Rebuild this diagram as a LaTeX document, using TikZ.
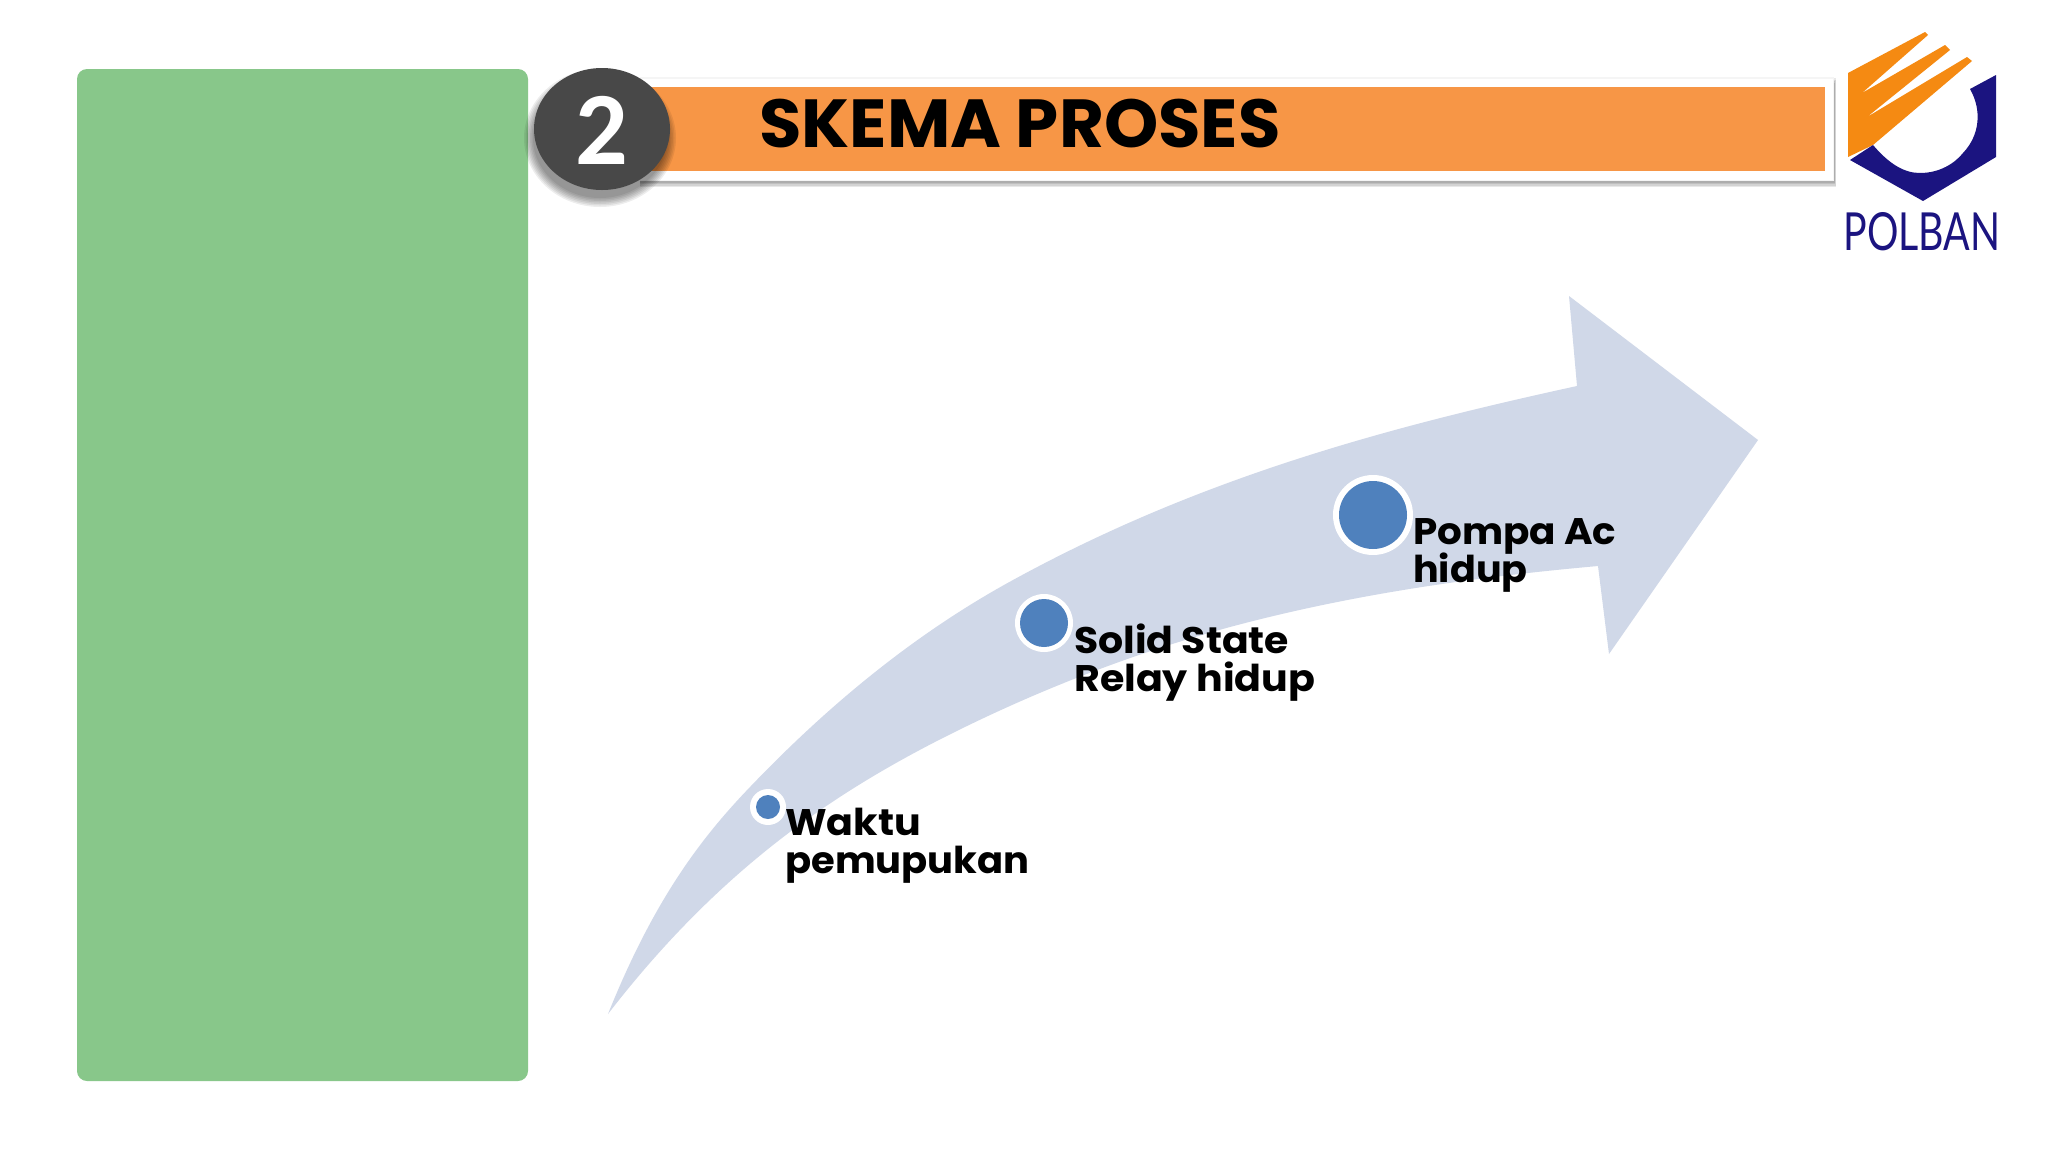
\documentclass[tikz,border=0pt]{standalone}
\usepackage{fontspec}
\setmainfont{Poppins}[BoldFont={Poppins Bold}]
\newfontfamily\numfont{Carlito}[BoldFont={Carlito Bold}]
\newfontfamily\logofont{Lato}
\definecolor{greenpanel}{HTML}{88C78A}
\definecolor{orangebar}{HTML}{F79646}
\definecolor{darkdisc}{HTML}{484848}
\definecolor{arrowfill}{HTML}{D0D8E8}
\definecolor{dotblue}{HTML}{4F81BD}
\definecolor{logoorange}{HTML}{F58A12}
\definecolor{logoblue}{HTML}{1B1480}
\tikzset{
  dotring/.style={circle,fill=white,inner sep=0pt,minimum size=#1},
  dotcore/.style={circle,fill=dotblue,inner sep=0pt,minimum size=#1},
  steplabel/.style={anchor=base west,inner sep=0pt,font=\fontsize{37}{37}\selectfont\bfseries,text=black},
}
\begin{document}
\begin{tikzpicture}[x=1pt,y=-1pt]
\useasboundingbox (0,0) rectangle (2048,1152);
\fill[white] (0,0) rectangle (2048,1152);
% green panel
\fill[greenpanel,rounded corners=10pt] (77,69) rectangle (528,1081);
% header bar
\foreach \g in {0,1.5,3,4.5,6}{
  \fill[black,opacity=.09] (640,{78+\g}) rectangle ({1836-\g*.3},{187-\g});
}
\fill[black!4] (640,77) rectangle (1834,181);
\fill[white] (640,79) rectangle (1833,180);
\fill[orangebar] (640,87) rectangle (1825,171);
% disc shadow and disc
\foreach \g in {9,7.5,6,4.5,3,1.5,0}{
  \fill[black,opacity=.07] (600,138) ellipse ({67+\g} and {60+\g});
}
\fill[darkdisc] (602,129) ellipse (68 and 61);
\node (num) at (602,130) [text=white,inner sep=0pt,font=\fontsize{104}{104}\selectfont\numfont\bfseries] {2};
\node (title) at (759,147) [anchor=base west,inner sep=0pt,font=\fontsize{68}{68}\selectfont\bfseries] {\scalebox{1.015}[1]{SKEMA PROSES}};
% big arrow
\fill[arrowfill] (608,1014)
  .. controls (655,897) and (703,836) .. (750,787)
  .. controls (838,695) and (925,628) .. (1013,580)
  .. controls (1201,477) and (1389,427) .. (1577,386)
  -- (1569,296) -- (1758,440) -- (1609,654) -- (1598,566)
  .. controls (1475,577) and (1353,594) .. (1230,627)
  .. controls (1131,654) and (1032,692) .. (933,743)
  .. controls (825,799) and (716,874) .. (608,1014) -- cycle;
% dots
\node[dotring=36pt] (r1) at (768,807) {};
\node[dotcore=24pt] (c1) at (768,807) {};
\node[dotring=58pt] (r2) at (1044,623) {};
\node[dotcore=48pt] (c2) at (1044,623) {};
\node[dotring=80pt] (r3) at (1373,515) {};
\node[dotcore=68pt] (c3) at (1373,515) {};
% labels
\node[steplabel] (l1a) at (785,835) {\scalebox{1.07}[1]{Waktu}};
\node[steplabel] (l1b) at (785,873) {\scalebox{1.04}[1]{pemupukan}};
\node[steplabel] (l2a) at (1074,653) {\scalebox{1.065}[1]{Solid State}};
\node[steplabel] (l2b) at (1074,691) {\scalebox{1.07}[1]{Relay hidup}};
\node[steplabel] (l3a) at (1413,544) {\scalebox{1.05}[1]{Pompa Ac}};
\node[steplabel] (l3b) at (1413,582) {\scalebox{1.03}[1]{hidup}};
% logo
\fill[logoorange] (1848,73) -- (1925,32) -- (1928,35) -- (1862,93) -- (1945,45) -- (1950,50) -- (1867,117) -- (1967,57) -- (1972,61) -- (1873,145) -- (1848,157) -- cycle;
\fill[logoblue] (1970,89) -- (1996,75) -- (1996,157) -- (1923,201) -- (1850,160) -- (1873,145)
  .. controls (1890,165) and (1905,173) .. (1920,173)
  .. controls (1940,173) and (1955,163) .. (1963,153)
  .. controls (1980,135) and (1982,110) .. (1970,89) -- cycle;
\node (logotext) at (1922,232) [inner sep=0pt,text=logoblue,font=\logofont] {\resizebox{157pt}{38pt}{POLBAN}};
\end{tikzpicture}
\end{document}
